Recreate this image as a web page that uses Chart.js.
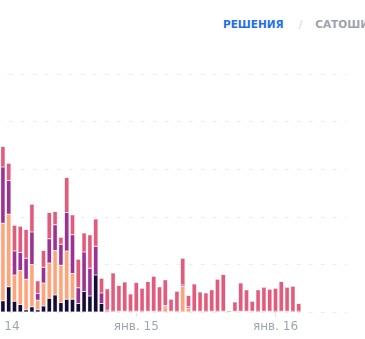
<!DOCTYPE html>
<html lang="ru">
<head>
<meta charset="UTF-8">
<title>Решения</title>
<script src="https://cdn.jsdelivr.net/npm/chart.js"></script>
<style>
    html, body { margin: 0; padding: 0; background: #fff; }
    body { width: 365px; height: 339px; overflow: hidden; position: relative; font-family: "DejaVu Sans", sans-serif; }
    .tabs { position: absolute; top: 18px; left: 223px; white-space: nowrap; font-size: 10.5px; font-weight: bold; }
    .tab-active { color: #1f6feb; }
    .sep { color: #d3d6da; font-weight: normal; margin: 0 13px 0 15px; }
    .tab { color: #9ea3a8; }
    #chart { position: absolute; left: -60px; top: 0; }
</style>
<script>
    // hours since jan 14 00:00
    const hours = [1, 2, 3, 4, 5, 6, 7, 8, 9, 10, 11, 12, 13, 14, 15, 16, 17, 18, 19, 20,
        21, 22, 23, 24, 25, 26, 27, 28, 29, 30, 31, 32, 33, 34, 35, 36, 37, 38, 39, 40,
        41, 42, 43, 44, 45, 46, 47, 48, 49, 50, 51, 52];
    const dayTicks = [0, 24, 48];
    const dayLabels = ['янв. 14', 'янв. 15', 'янв. 16'];

    const darkVals = [2.5, 5.4, 2.4, 1.7, 0.6, 1.2, 0.6, 1.4, 3.0, 3.7, 2.1, 2.8, 2.8, 1.9, 4.4, 3.5, 7.9, 1.9, 0.2, 0.3,
        0, 0, 0.3, 0, 0, 0, 0, 0.3, 0, 0, 0.3, 0, 0, 0, 0, 0, 0, 0, 0, 0.3,
        0, 0, 0, 0, 0.3, 0, 0, 0.3, 0, 0, 0.3, 0.3];
    const orangeVals = [16.2, 15.2, 5.5, 7.1, 6.4, 8.9, 2.0, 4.8, 7.4, 9.3, 7.8, 10.1, 5.4, 0, 0, 0, 0, 0, 0, 0,
        0.3, 0.3, 0, 0.3, 0, 0.3, 0.3, 0, 1.2, 0.3, 0, 5.5, 0.9, 0.3, 0.3, 0, 0.3, 0, 0.3, 0,
        0.3, 0.3, 0.3, 0.3, 0, 0.3, 0.3, 0, 0.3, 0.3, 0, 0];
    const purpleVals = [11.8, 7.1, 5.0, 3.8, 4.4, 6.8, 1.4, 3.3, 5.1, 5.4, 4.4, 8.1, 8.1, 3.3, 8.3, 5.8, 6.0, 2.2, 0.3, 0,
        0, 0, 0, 0, 0.3, 0, 0, 0, 0.3, 0, 0, 0.3, 0.3, 0, 0, 0.3, 0, 0.3, 0, 0,
        0, 0, 0, 0, 0, 0, 0, 0, 0, 0, 0, 0];
    const pinkVals = [4.3, 3.6, 5.4, 5.5, 6.0, 5.8, 2.7, 3.5, 5.5, 2.8, 1.5, 7.3, 4.2, 6.0, 4.0, 7.0, 5.7, 3.1, 4.5, 8.0,
        5.4, 6.1, 3.6, 6.0, 4.8, 6.2, 7.3, 5.1, 5.4, 2.5, 4.2, 5.6, 2.4, 5.7, 4.0, 3.8, 4.5, 6.7, 7.7, 0,
        1.9, 5.9, 4.5, 2.1, 4.5, 5.0, 4.6, 4.8, 6.2, 5.0, 5.2, 1.6];

    function series(values, fill, edge) {
        return {
            data: values,
            backgroundColor: fill,
            borderColor: edge,
            borderWidth: 0.5,
            borderSkipped: false,
            inflateAmount: 0,
            barThickness: 4.5
        };
    }

    window.onload = function () {
        const ctx = document.getElementById('chart').getContext('2d');
        new Chart(ctx, {
            type: 'bar',
            data: {
                labels: hours,
                datasets: [
                    series(darkVals, '#150c33', '#a7a2bb'),
                    series(orangeVals, '#fea47d', '#fed0bb'),
                    series(purpleVals, '#983391', '#d39ccf'),
                    series(pinkVals, '#df5c7d', '#f3abbd')
                ]
            },
            options: {
                responsive: false,
                animation: false,
                // canvas sits 60px left of the page, so the chart area starts just off screen
                layout: { padding: { left: 51.3, right: 20, top: 74, bottom: 2 } },
                plugins: { legend: { display: false }, tooltip: { enabled: false } },
                scales: {
                    x: {
                        type: 'linear',
                        min: -1,
                        max: 60.155,
                        stacked: true,
                        offset: false,
                        afterBuildTicks: s => { s.ticks = dayTicks.map(v => ({ value: v })); },
                        ticks: {
                            callback: v => dayLabels[dayTicks.indexOf(v)],
                            color: '#9ba6b2',
                            font: { family: 'DejaVu Sans', size: 12 },
                            maxRotation: 0,
                            autoSkip: false,
                            padding: 3
                        },
                        grid: { offset: false, drawOnChartArea: false, drawTicks: true, tickLength: 4, color: '#dfe3e8' },
                        border: { display: false }
                    },
                    y: {
                        stacked: true,
                        min: 0,
                        max: 50,
                        ticks: { display: false, stepSize: 10 },
                        grid: { drawTicks: false, color: '#ececec' },
                        border: { display: false, dash: [4, 8], dashOffset: 6.3 }
                    }
                }
            }
        });
    };
</script>
</head>
<body>
    <div class="tabs"><span class="tab-active">РЕШЕНИЯ</span><span class="sep">/</span><span class="tab">САТОШИ</span></div>
    <canvas id="chart" width="426" height="339"></canvas>
</body>
</html>
